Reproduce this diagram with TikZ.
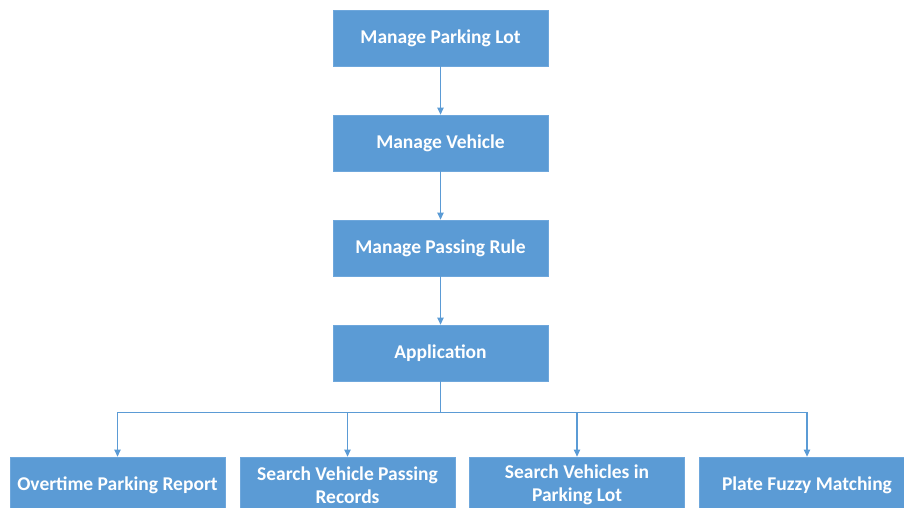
\documentclass[tikz,border=0pt]{standalone}
\usepackage{fontspec}
\setmainfont{Carlito}
\usetikzlibrary{arrows.meta}
\definecolor{boxblue}{HTML}{5B9BD5}
\definecolor{boxedge}{HTML}{6EA7DC}
\definecolor{linkblue}{HTML}{5B9BD5}
\tikzset{
  x=1pt, y=1pt,
  box/.style={draw=boxedge, line width=0.8pt, fill=boxblue, text=white,
    minimum width=215pt, minimum height=56pt, inner sep=0pt,
    align=center, font=\bfseries\fontsize{19.5}{22.5}\selectfont},
  link/.style={draw=linkblue, line width=1.1pt},
  arr/.style={link, -{Triangle[length=7pt,width=6.5pt]}}
}
\begin{document}
\begin{tikzpicture}
\useasboundingbox (0,0) rectangle (904,-508);
\clip (0,0) rectangle (904,-508);
\node[box] (plot) at (440.5,-38) {Manage Parking Lot};
\node[box] (veh) at (440.5,-143) {Manage Vehicle};
\node[box] (rule) at (440.5,-248) {Manage Passing Rule};
\node[box] (app) at (440.5,-353) {Application};
\node[box] (b1) at (117.5,-485) {Overtime Parking Report};
\node[box] (b2) at (347.5,-485) {Search Vehicle Passing\\Records};
\node[box] (b3) at (577,-485) {Search Vehicles in\\Parking Lot};
\node[box] (b4) at (807,-485) {Plate Fuzzy Matching};
\draw[arr] (plot) -- (veh);
\draw[arr] (veh) -- (rule);
\draw[arr] (rule) -- (app);
\draw[link] (app.south) -- ++(0,-31) coordinate (bus);
\draw[link] (b1.north |- bus) -- (b4.north |- bus);
\foreach \b in {b1,b2,b3,b4}{
  \draw[arr] (\b.north |- bus) -- (\b.north);
}
\end{tikzpicture}
\end{document}
